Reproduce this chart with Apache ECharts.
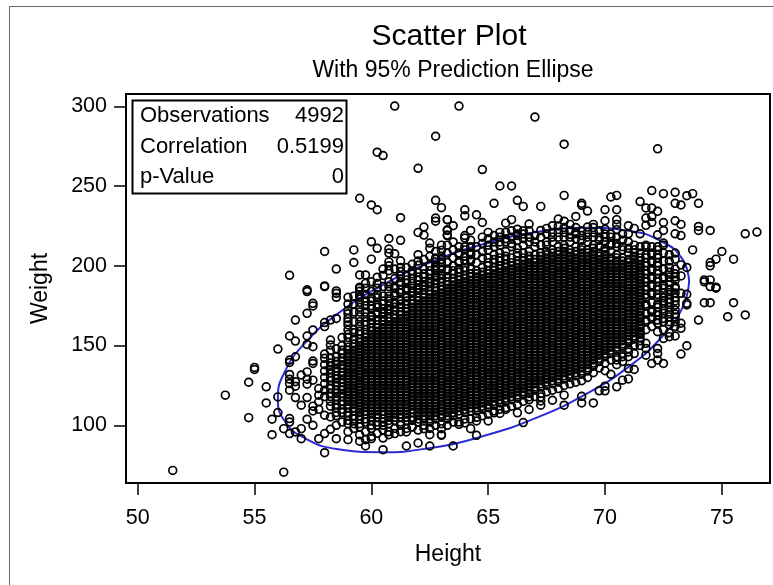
<!DOCTYPE html>
<html><head><meta charset="utf-8">
<style>html,body{margin:0;padding:0;background:#fff}#c{width:773px;height:585px}</style>
<script src="https://cdn.jsdelivr.net/npm/echarts@6/dist/echarts.min.js"></script>
</head><body><div id="c"></div>
<script>
const titleText = "Scatter Plot";
const subtitleText = "With 95% Prediction Ellipse";
const xName = "Height";
const yName = "Weight";
const xTicks = [50,55,60,65,70,75];
const yTicks = [100,150,200,250,300];
const statLabels = ["Observations","Correlation","p-Value"];
const statValues = ["4992","0.5199","0"];
const ellipseHeights = [73.6,73.3,72.42,71.02,69.2,67.08,64.8,62.52,60.4,58.58,57.18,56.3,56.0,56.3,57.18,58.58,60.4,62.52,64.8,67.08,69.2,71.02,72.42,73.3,73.6];
const ellipseWeights = [190.2,204.5,215.3,222,223.9,221.2,213.7,202.2,187.3,170.2,151.9,133.7,116.8,102.5,91.7,85,83.1,85.8,93.3,104.8,119.7,136.8,155.2,173.3,190.2];
const outerPoints = [
[61,300.2],[62.75,281.3],[60.25,271.3],[60.5,269.2],[62,261.2],[59.5,242.4],[60,238.2],[60.25,235.2],[61.25,230.2],[62.75,241.1],[63,236.5],[62.75,230],[62.75,228],[63.25,229],[62.25,224.3],[62,221],[62.25,219.3],[63.25,222.6],[63.25,219.3],[60.75,217.2],[61.25,216],[60,215.1],[62.5,214.3],[62.5,211],[60.25,211],[59.25,210],[58,209],[60.75,210.5],[60.75,208],[61,207.6],[63,209.7],[62,207],[60,204.2],[59.25,202.1],[61.25,203.2],[60.75,202.5],[60.75,200],[62,200.4],[62.75,202.5],[62.75,200],[63,202],[58.5,198],[56.5,194.1],[59.5,194.3],[59.75,194.3],[60.25,192.9],[61.25,196.4],[61.25,193.7],[61.5,191.2],[60.25,189],[59.75,189],[58,187.4],[57.25,185],[58.5,184.3],[59.5,186.6],[61,186.6],
[63.75,300.2],[67,293.3],[68.25,276.3],[72.25,273.4],[64.75,260.4],[65.5,250.1],[66,250.1],[66.25,241.1],[66.5,237.3],[65.25,239.2],[67.25,237.3],[68.25,244.2],[69,239.2],[69,238],[69.25,234.4],[68.75,231],[70.25,243.2],[70.5,244.2],[70,235.2],[70.5,235.2],[70,228.3],[70.5,229],[71.5,240.3],[72,247.2],[72.5,245.3],[73,246.1],[73.5,244],[73.75,245.3],[74,239.2],[73,239.2],[73.25,238.2],[71.75,236.3],[72,236.3],[72.25,234.2],[71.75,230],[72,231],[71.75,225.4],[72,227.2],[72.5,227.2],[73,228.3],[73.25,226],[72.5,222.2],[73,220.1],[73.25,219],[74,224.7],[74,222.2],[74.5,222.2],[76,220.1],[76.5,221.2],[75,209],[74.75,204.2],[75.5,204.2],[74.5,202.1],[74.5,200],[73.75,210],[74.25,191.2],[74.5,191.2],[74.75,186.6],[73.5,199],[73,208],[73,204.2],[73.25,200.6],[73.25,193.7],[72.25,219.5],[72.5,214.3],[71,225.2],[71,220.1],[71.25,223.5],[71.5,220.1],[64,235.2],[64,231.4],[64.5,232],[64.75,227.2],[63.25,229],[63.5,225.2],[63.25,222.2],[63.25,219],[64.25,222.2],[64,219],[64,217.4],[65,221],[65.5,221],[65.75,226.8],[66,229],[66.75,226.2],[67.25,222.2],[67.5,223.5],[67.75,225.2],[68,229.4],[68.25,228],[68.5,226],[66.25,220],[66.5,220],[68.75,220.1],[69.25,224.3],[69.5,226],[70,220],[70.25,220],[70.5,222.7],[70.5,226],[64.25,208],
[51.5,71.7],[56.25,70.6],[53.75,118.9],[55,136.3],[55,135],[54.75,127],[54.75,104.8],[55.5,124.1],[55.5,114],[56,147.8],[56,117.8],[56,108],[55.75,103.8],[55.75,94.1],[56.25,97.9],[56.5,156],[56.75,152.8],[56.75,166],[57.25,183.9],[57.5,176.5],[57.5,174.9],[57.25,170.2],[58,187],[58.5,182.8],[58.5,180.3],[59,180.3],[59.5,186],[59.5,181.8],[59.5,180.3],[58,164.4],[58.25,166],[58.5,167],[57.5,159.8],[57.25,156],[58,161.9],[57.25,150.7],[57.5,149.3],[56.75,143],[56.5,140.9],[56.5,139.4],[57.5,140.3],[57.5,138.8],[58,144.7],[58.25,153.5],[58.25,150.3],[59,167],[59,162.9],[59,159.8],[56.5,131.9],[56.5,128.9],[56.5,126.2],[56.5,122],[56.75,127.3],[56.75,124.5],[57,131.5],[57.25,133.5],[57.25,128.9],[57.25,125.8],[57.5,128.3],[56.75,117.4],[57.25,117.4],[57,112.6],[57.5,112],[57.5,109],[56.5,104.2],[56.5,102],[56.5,94.8],[56.75,95.8],[57,97.9],[57,91.6],[57.25,103.8],[57.5,100],[57.75,91.6],[58,94.8],[58,82.8],[58,106.3],[58.25,105.2],[58.25,97.5],[58.5,91.6],[59,91],[59.5,90],[59.75,91],[59.75,87],[60,91.6],[60.5,84.7],[60.75,94.1],[61,94.8],[61.5,87],[62,88.9],[62.5,87],[62.5,94.1],[63,94.1],[63,97.9],[61.5,95.8],[61.75,99],[62.25,97.9],[57.75,123],[57.75,118.9],[57.75,114.7],[58,142],[58,138],[58,134],[58,130],[58,126],[58,122],[58,118],[57.75,110],
[63.5,87],[64.25,97.9],[64.5,102.7],[64.5,93.7],[64,101.5],[63.75,100.6],[63,93.7],[65,102.7],[66.5,101.7],[66.25,107.8],[66.75,109.9],[66.75,117.8],[65.5,107.4],[65.75,109.9],[65.25,107.8],[67.25,117.8],[67.25,115.3],[67.25,112.6],[67.75,115.7],[68.25,118.9],[68.25,112.6],[69,118.2],[69,114],[69.5,114],[69.75,121.6],[70,124.5],[70,121.6],[70.5,124.1],[70,134.2],[70.25,132],[70.75,128.3],[71,129.1],[71,135.6],[71.25,135],[70.5,138],[72,138.8],[72.5,138.8],[72.25,140.9],[72.25,145],[72.25,148.2],[71.75,144],[71.75,148.2],[71.75,151.4],[73.25,144.7],[73.5,149.9],[73,156],[72.75,155.6],[72.5,154.5],[73.25,164],[73.25,160.8],[74,166],[73,175.5],[73,172.3],[73,169.8],[73.5,182.2],[73.5,176.5],[73.5,175.5],[74.25,176.9],[74.5,176.9],[75.5,176.9],[75.25,168.1],[76,169.2],[74.25,190],[74.5,187],[74.75,186],[72.5,176.5],[72.5,165],[72.5,170.2],[72.25,158.7],[71.5,158],[72.75,184.9],[73.25,182.8]
];
const columnHeights = [58.25,58.5,58.75,59,59.25,59.5,59.75,60,60.25,60.5,60.75,61,61.25,61.5,61.75,62,62.25,62.5,62.75,63,63.25,63.5,63.75,64,64.25,64.5,64.75,65,65.25,65.5,65.75,66,66.25,66.5,66.75,67,67.25,67.5,67.75,68,68.25,68.5,68.75,69,69.25,69.5,69.75,70,70.25,70.5,70.75,71,71.25,71.5,71.75,72,72.25,72.5,72.75,73];
const columnWeights = [
[112,118,123,128,133,137,142,147],
[100,106,111,116,120,125,129,134,138,143,148],
[102,108,113,118,122,127,131,136,140,145,150,155],
[96,101,106,111,115,119,123,127,131,135,139,143,147,152,157,172],
[98,104,109,113,117,121,125,129,133,137,141,145,149,154,160,176],
[94,99,104,108,112,116,120,124,128,132,136,140,144,148,152,157,162,168,174],
[96,102,107,111,115,119,123,127,131,135,139,143,147,151,155,160,165,171,178],
[93,98,103,107,111,115,119,123,127,131,135,139,143,147,151,155,159,164,169,175,180],
[95,100,105,109,113,117,121,125,129,133,137,141,145,149,153,157,161,166,171,176,182],
[92,97,102,107,111,115,119,123,127,131,135,139,143,147,151,155,159,163,168,173,178],
[96,101,105,109,113,117,121,125,129,133,137,141,145,149,153,157,161,165,170,175,181,187],
[98,103,107,111,115,119,123,127,131,135,139,143,147,151,155,159,163,167,172,177,183],
[96,100,105,109,113,117,121,125,129,133,137,141,145,149,153,157,161,165,169,174,179,185,190],
[98,103,107,111,115,119,123,127,131,135,139,143,147,151,155,159,163,167,171,176,181,186],
[99,103,108,112,116,120,124,128,132,136,140,144,148,152,156,160,164,168,172,176,181,186,192,197],
[97,102,106,110,114,118,122,126,130,134,138,142,146,150,154,158,162,166,170,174,178,183,188,193],
[100,104,108,112,116,120,124,128,132,136,140,144,148,152,156,160,164,168,172,176,180,185,190,195],
[98,102,106,110,114,118,122,126,130,134,138,142,146,150,154,158,162,166,170,174,178,182,187,192,197],
[100,104,108,112,116,120,124,128,132,136,140,144,148,152,156,160,164,168,172,176,180,184,189,194,199],
[101,105,109,113,117,121,125,129,133,137,141,145,149,153,157,161,165,169,173,177,181,185,190,195,204],
[100,104,108,112,116,120,124,128,132,136,140,144,148,152,156,160,164,168,172,176,180,184,188,193,198],
[102,106,110,114,118,122,126,130,134,138,142,146,150,154,158,162,166,170,174,178,182,186,190,195,200,205],
[102,107,111,115,119,123,127,131,135,139,143,147,151,155,159,163,167,171,175,179,183,187,191,196,202,208],
[104,108,112,116,120,124,128,132,136,140,144,148,152,156,160,164,168,172,176,180,184,188,192,197,203,210],
[104,109,113,117,121,125,129,133,137,141,145,149,153,157,161,165,169,173,177,181,185,189,193,198,204],
[105,109,113,117,121,125,129,133,137,141,145,149,153,157,161,165,169,173,177,181,185,189,193,197,202],
[106,110,114,118,122,126,130,134,138,142,146,150,154,158,162,166,170,174,178,182,186,190,194,199,205],
[107,111,115,119,123,127,131,135,139,143,147,151,155,159,163,167,171,175,179,183,187,191,195,200,205,210],
[109,113,117,121,125,129,133,137,141,145,149,153,157,161,165,169,173,177,181,185,189,193,197,202,207,212],
[110,114,118,122,126,130,134,138,142,146,150,154,158,162,166,170,174,178,182,186,190,194,198,203,208,213],
[111,115,119,123,127,131,135,139,143,147,151,155,159,163,167,171,175,179,183,187,191,195,199,204,209,215],
[112,116,120,124,128,132,136,140,144,148,152,156,160,164,168,172,176,180,184,188,192,196,200,205,212],
[113,117,121,125,129,133,137,141,145,149,153,157,161,165,169,173,177,181,185,189,193,197,201,206,211,216],
[115,119,123,127,131,135,139,143,147,151,155,159,163,167,171,175,179,183,187,191,195,199,203,208],
[116,120,124,128,132,136,140,144,148,152,156,160,164,168,172,176,180,184,188,192,196,200,204,209,215],
[118,122,126,130,134,138,142,146,150,154,158,162,166,170,174,178,182,186,190,194,198,202,207,212],
[120,124,128,132,136,140,144,148,152,156,160,164,168,172,176,180,184,188,192,196,200,204,208],
[121,125,129,133,137,141,145,149,153,157,161,165,169,173,177,181,185,189,193,197,201,205,209,213],
[122,126,130,134,138,142,146,150,154,158,162,166,170,174,178,182,186,190,194,198,202,206,210,215],
[123,127,131,135,139,143,147,151,155,159,163,167,171,175,179,183,187,191,195,199,203,207,212,218],
[125,129,133,137,141,145,149,153,157,161,165,169,173,177,181,185,189,193,197,201,205,209,213,218],
[126,130,134,138,142,146,150,154,158,162,166,170,174,178,182,186,190,194,198,202,206,210,215],
[127,131,135,139,143,147,151,155,159,163,167,171,175,179,183,187,191,195,199,203,207,212,217],
[128,132,136,140,144,148,152,156,160,164,168,172,176,180,184,188,192,196,200,204,208,212,216],
[130,134,138,142,146,150,154,158,162,166,170,174,178,182,186,190,194,198,202,206,210,215],
[133,137,141,145,149,153,157,161,165,169,173,177,181,185,189,193,197,201,205,209,213,218],
[136,140,144,148,152,156,160,164,168,172,176,180,184,188,192,196,200,204,208,212,216],
[139,143,147,151,155,159,163,167,171,175,179,183,187,191,195,199,203,207,211,215],
[141,145,149,153,157,161,165,169,173,177,181,185,189,193,197,201,205,209,213],
[143,147,151,155,159,163,167,171,175,179,183,187,191,195,199,203,207,212],
[145,149,153,157,161,165,169,173,177,181,185,189,193,197,201,205,210],
[148,152,156,160,164,168,172,176,180,184,188,192,196,200,204,208],
[150,154,158,162,166,170,174,178,182,186,190,194,198,202,206,210],
[155,159,163,167,171,175,179,183,187,191,195,199,203,208],
[160,165,170,175,180,185,190,195,200,205,212],
[162,167,172,177,182,187,192,197,202,207,212],
[164,169,174,180,185,190,195,200,205,210],
[160,167,173,180,186,192,198],
[158,163,168,174,179,185,190,196],
[162,168,180,186,191,195]
];
const coreHeights = [58.25,58.5,58.75,59,59.25,59.5,59.75,60,60.25,60.5,60.75,61,61.25,61.5,61.75,62,62.25,62.5,62.75,63,63.25,63.5,63.75,64,64.25,64.5,64.75,65,65.25,65.5,65.75,66,66.25,66.5,66.75,67,67.25,67.5,67.75,68,68.25,68.5,68.75,69,69.25,69.5,69.75,70,70.25,70.5,70.75,71,71.25];
const coreWeights = [
[115,120,125,130,135,139],
[108,113,118,122,127,131,136,140],
[110,115,120,124,129,133,138,142,147],
[103,108,113,117,121,125,129,133,137,141,145,149],
[101,106,111,115,119,123,127,131,135,139,143,147,151],
[101,106,110,114,118,122,126,130,134,138,142,146,150,154,159],
[104,109,113,117,121,125,129,133,137,141,145,149,153,157],
[100,105,109,113,117,121,125,129,133,137,141,145,149,153,157,161,166],
[102,107,111,115,119,123,127,131,135,139,143,147,151,155,159,163],
[100,104,109,113,117,121,125,129,133,137,141,145,149,153,157,161,165,170],
[103,107,111,115,119,123,127,131,135,139,143,147,151,155,159,163,167,172],
[105,109,113,117,121,125,129,133,137,141,145,149,153,157,161,165,169,174],
[102,107,111,115,119,123,127,131,135,139,143,147,151,155,159,163,167,171,176],
[105,109,113,117,121,125,129,133,137,141,145,149,153,157,161,165,169,173,178],
[105,110,114,118,122,126,130,134,138,142,146,150,154,158,162,166,170,174,178,183],
[104,108,112,116,120,124,128,132,136,140,144,148,152,156,160,164,168,172,176,180,185],
[106,110,114,118,122,126,130,134,138,142,146,150,154,158,162,166,170,174,178,182,187],
[104,108,112,116,120,124,128,132,136,140,144,148,152,156,160,164,168,172,176,180,184,189],
[106,110,114,118,122,126,130,134,138,142,146,150,154,158,162,166,170,174,178,182,186,191],
[107,111,115,119,123,127,131,135,139,143,147,151,155,159,163,167,171,175,179,183,187,192],
[106,110,114,118,122,126,130,134,138,142,146,150,154,158,162,166,170,174,178,182,186,190],
[108,112,116,120,124,128,132,136,140,144,148,152,156,160,164,168,172,176,180,184,188,192,197],
[109,113,117,121,125,129,133,137,141,145,149,153,157,161,165,169,173,177,181,185,189,193,198],
[110,114,118,122,126,130,134,138,142,146,150,154,158,162,166,170,174,178,182,186,190,194,199],
[111,115,119,123,127,131,135,139,143,147,151,155,159,163,167,171,175,179,183,187,191,195],
[111,115,119,123,127,131,135,139,143,147,151,155,159,163,167,171,175,179,183,187,191,195],
[112,116,120,124,128,132,136,140,144,148,152,156,160,164,168,172,176,180,184,188,192,196],
[113,117,121,125,129,133,137,141,145,149,153,157,161,165,169,173,177,181,185,189,193,197,202],
[115,119,123,127,131,135,139,143,147,151,155,159,163,167,171,175,179,183,187,191,195,199,204],
[116,120,124,128,132,136,140,144,148,152,156,160,164,168,172,176,180,184,188,192,196,200,205],
[117,121,125,129,133,137,141,145,149,153,157,161,165,169,173,177,181,185,189,193,197,201,206],
[118,122,126,130,134,138,142,146,150,154,158,162,166,170,174,178,182,186,190,194,198,202],
[119,123,127,131,135,139,143,147,151,155,159,163,167,171,175,179,183,187,191,195,199,203,208],
[121,125,129,133,137,141,145,149,153,157,161,165,169,173,177,181,185,189,193,197,201,205],
[122,126,130,134,138,142,146,150,154,158,162,166,170,174,178,182,186,190,194,198,202,206],
[124,128,132,136,140,144,148,152,156,160,164,168,172,176,180,184,188,192,196,200,204],
[126,130,134,138,142,146,150,154,158,162,166,170,174,178,182,186,190,194,198,202,206],
[127,131,135,139,143,147,151,155,159,163,167,171,175,179,183,187,191,195,199,203,207],
[128,132,136,140,144,148,152,156,160,164,168,172,176,180,184,188,192,196,200,204,208],
[129,133,137,141,145,149,153,157,161,165,169,173,177,181,185,189,193,197,201,205,209],
[131,135,139,143,147,151,155,159,163,167,171,175,179,183,187,191,195,199,203,207,211],
[132,136,140,144,148,152,156,160,164,168,172,176,180,184,188,192,196,200,204,208],
[133,137,141,145,149,153,157,161,165,169,173,177,181,185,189,193,197,201,205,209],
[134,138,142,146,150,154,158,162,166,170,174,178,182,186,190,194,198,202,206,210],
[136,140,144,148,152,156,160,164,168,172,176,180,184,188,192,196,200,204,208],
[139,143,147,151,155,159,163,167,171,175,179,183,187,191,195,199,203,207,211],
[142,146,150,154,158,162,166,170,174,178,182,186,190,194,198,202,206],
[145,149,153,157,161,165,169,173,177,181,185,189,193,197,201,205,209],
[147,151,155,159,163,167,171,175,179,183,187,191,195,199,203],
[149,153,157,161,165,169,173,177,181,185,189,193,197,201,205],
[151,155,159,163,167,171,175,179,183,187,191,195,199,203],
[154,158,162,166,170,174,178,182,186,190,194,198,202],
[156,160,164,168,172,176,180,184,188,192,196,200,204]
];
const fringeHeights = [59,59.25,59.5,59.75,60,60.25,60.5,60.75,61,61.25,61.5,61.75,62,62.25,62.5,62.75,63,63.25,63.5,63.75,64,64.25,64.5,64.75,65,65.25,65.5,65.75,66,66.25,66.5,66.75,67,67.25,67.5,67.75,68,68.25,68.5,68.75,69,69.25,69.5,69.75,70,70.25,70.5,70.75,71,71.25,71.5,71.75,72,72.25,72.5,72.75,73];
const fringeWeights = [
[155,165,170,176],[158,165,171,181],[165,171,177,184],[163,168,175,182,186],[168,173,178,184,190],[170,174,180,186],[166,171,176,181,187,194,198],[173,178,184,190,197],[176,181,186,192,198],[178,183,188,199],[180,185,189,194,199],[184,189,195,201],[186,191,196,203],[188,193,198,204],[190,195,200,206],[193,197,205,209],[194,198,206,213],[197,202,208,213],[200,205,210,215],[203,207,212],[206,212],[203,207,212,216],[207,212],[209,214,218],[213,217],[215,219],[215,218],[217,221],[214,218,222],[219,223],[213,217,222],[218,222],[215,219],[213,218],[215,220],[218,221],[221,225],[221,224],[218,222],[221,224],[219,222],[218,221],[221,224],[218,222],[215,218,223],[214,218],[141,214,218],[140,143,212,216,220],[143,146,211,215],[145,150,208,213],
[150,153,157,161,165,169,173,177,181,185,189,193,197,201,205,212],
[166,170,176,182,187,192,197,202,207,213],
[168,171,177,183,188,193,198,203,208],
[166,171,176,182,187,192,197,202,207,212],
[178,183,188,193,198,203,208,213],
[165,171,177,182,188,193,199,203,207],
[165,178,183,187,193,198]
];
const scatterData = outerPoints.slice();
function addColumns(heights,weights){heights.forEach(function(h,i){weights[i].forEach(function(w){scatterData.push([h,w]);});});}
addColumns(columnHeights,columnWeights);
addColumns(coreHeights,coreWeights);
addColumns(fringeHeights,fringeWeights);
const ellipseData = ellipseHeights.map(function(h,i){return [h,ellipseWeights[i]];});
const FONT = "Liberation Sans";
const chart = echarts.init(document.getElementById('c'),null,{renderer:'canvas'});
const statGraphics = [
 {type:'rect',shape:{x:132.5,y:100.5,width:214,height:93},style:{fill:'#fff',stroke:'#000',lineWidth:2},z:20}
];
statLabels.forEach(function(t,i){
 statGraphics.push({type:'text',x:140,y:116+i*30.5,z:21,style:{text:t,fill:'#000',font:'22px "'+FONT+'"',textAlign:'left',textVerticalAlign:'middle'}});
 statGraphics.push({type:'text',x:344,y:116+i*30.5,z:21,style:{text:statValues[i],fill:'#000',font:'22px "'+FONT+'"',textAlign:'right',textVerticalAlign:'middle'}});
});
chart.setOption({
 animation:false,
 backgroundColor:'#fff',
 textStyle:{fontFamily:FONT},
 title:[
  {text:titleText,left:444,top:32,textAlign:'center',textVerticalAlign:'middle',textStyle:{fontSize:30,fontWeight:'normal',color:'#000',fontFamily:FONT}},
  {text:subtitleText,left:448,top:66,textAlign:'center',textVerticalAlign:'middle',textStyle:{fontSize:23,fontWeight:'normal',color:'#000',fontFamily:FONT}}
 ],
 grid:{left:126,right:3,top:94,bottom:102,show:true,borderColor:'#000',borderWidth:2,backgroundColor:'#fff'},
 xAxis:{type:'value',min:49.5,max:77.06,name:xName,nameLocation:'middle',nameGap:60,
  nameTextStyle:{fontSize:23,color:'#000',fontFamily:FONT},
  splitLine:{show:false},
  axisLine:{onZero:false,lineStyle:{color:'#000',width:2}},
  axisTick:{show:true,length:12,customValues:xTicks,lineStyle:{color:'#000',width:1.5}},
  axisLabel:{customValues:xTicks,margin:24,fontSize:21.5,color:'#000',fontFamily:FONT}},
 yAxis:{type:'value',min:63.8,max:307.8,name:yName,nameLocation:'middle',nameGap:74,
  nameTextStyle:{fontSize:23,color:'#000',fontFamily:FONT},
  splitLine:{show:false},
  axisLine:{onZero:false,lineStyle:{color:'#000',width:2}},
  axisTick:{show:true,length:12,customValues:yTicks,lineStyle:{color:'#000',width:1.5}},
  axisLabel:{customValues:yTicks,margin:19,fontSize:21.5,color:'#000',fontFamily:FONT,padding:[4,0,0,0]}},
 series:[
  {type:'line',data:ellipseData,smooth:0.5,showSymbol:false,symbol:'none',z:1,lineStyle:{color:'#2b2bd6',width:2},silent:true},
  {type:'scatter',data:scatterData,symbol:'circle',symbolSize:7.8,z:2,progressive:0,large:false,silent:true,
   itemStyle:{color:'rgba(0,0,0,0)',borderColor:'#000',borderWidth:1.7,opacity:1}}
 ],
 graphic:[
  {type:'polyline',shape:{points:[[9.5,585],[9.5,6.5],[773,6.5]]},style:{stroke:'#666',fill:null,lineWidth:1},z:0},
  ...statGraphics
 ]
});
</script></body></html>
